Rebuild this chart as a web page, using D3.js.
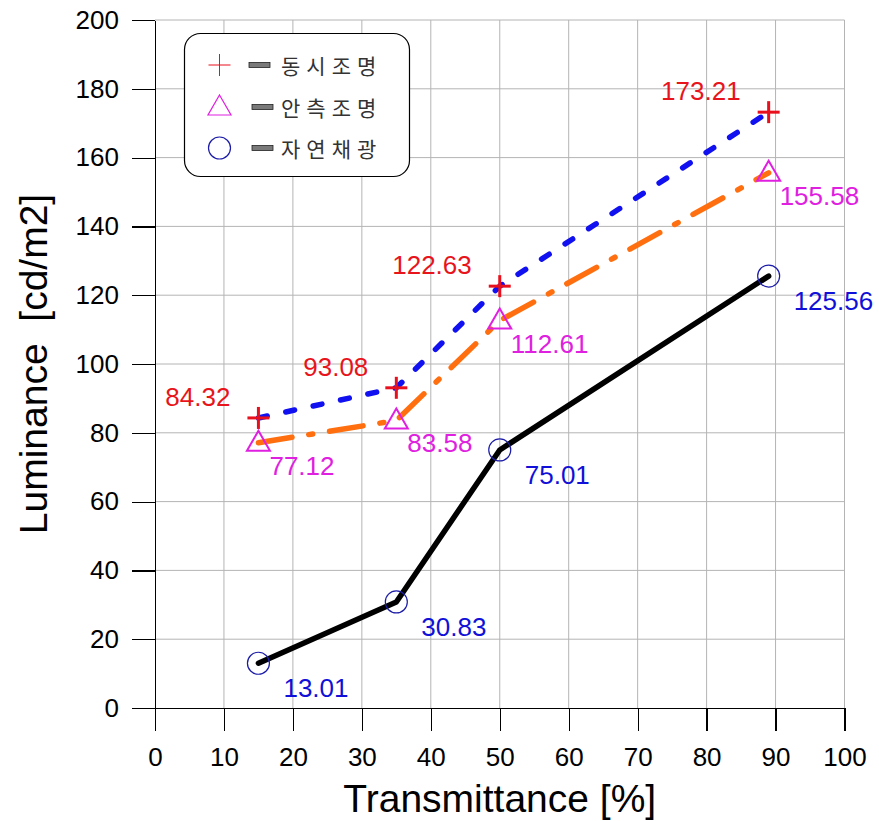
<!DOCTYPE html>
<html><head><meta charset="utf-8">
<script src="https://cdn.jsdelivr.net/npm/d3@7"></script>
<style>body{margin:0;background:#fff}</style>
</head><body><svg id="c" width="879" height="821"></svg>
<script>
// ---- data ----
const transmittance = [15, 35, 50, 89];
const simultaneous = [84.32, 93.08, 122.63, 173.21];   // 동시조명
const lateral = [77.12, 83.58, 112.61, 155.58];        // 안측조명
const daylight = [13.01, 30.83, 75.01, 125.56];        // 자연채광
const seriesNames = ["동시조명", "안측조명", "자연채광"];
const xTicks = [0, 10, 20, 30, 40, 50, 60, 70, 80, 90, 100];
const yTicks = [0, 20, 40, 60, 80, 100, 120, 140, 160, 180, 200];
const xTitle = "Transmittance [%]";
const yTitle = "Luminance  [cd/m2]";

// ---- layout / style ----
const FONT = "'Liberation Sans', Arial, sans-serif";
const KFONT = "'Noto Sans CJK KR', sans-serif";
const svg = d3.select("#c");
const x = d3.scaleLinear().domain([0, 100]).range([155, 844.5]);
const y = d3.scaleLinear().domain([0, 200]).range([708, 20]);

const series = [
  { name: seriesNames[0], values: simultaneous, line: "#1010f0", dash: "9,19", marker: "plus", mColor: "#e8101c", lColor: "#e8141c", anchor: "end", dx: -28, dy: -12 },
  { name: seriesNames[1], values: lateral, line: "#ff6f10", dash: "34,17,4,17", marker: "tri", mColor: "#e020e0", lColor: "#e020e0", anchor: "start", dx: 11, dy: 32 },
  { name: seriesNames[2], values: daylight, line: "#000000", dash: null, marker: "circle", mColor: "#1c1ca8", lColor: "#1010d8", anchor: "start", dx: 25, dy: 34 }
];

// grid
const grid = svg.append("g");
grid.selectAll("line.v").data(xTicks.filter(d => d > 0)).join("line")
  .attr("x1", d => x(d)).attr("x2", d => x(d)).attr("y1", y(0)).attr("y2", y(200))
  .attr("stroke", "#b4b4b4").attr("stroke-width", 1);
grid.selectAll("line.h").data(yTicks.filter(d => d > 0)).join("line")
  .attr("x1", x(0)).attr("x2", x(100)).attr("y1", d => y(d)).attr("y2", d => y(d))
  .attr("stroke", "#b4b4b4").attr("stroke-width", 1);

// axes
const xAxis = svg.append("g").attr("transform", `translate(0,${y(0)})`)
  .call(d3.axisBottom(x).tickValues(xTicks).tickSize(23).tickSizeOuter(0).tickPadding(17));
const yAxis = svg.append("g").attr("transform", `translate(${x(0)},0)`)
  .call(d3.axisLeft(y).tickValues(yTicks).tickSize(23).tickSizeOuter(0).tickPadding(13));
[xAxis, yAxis].forEach(a => {
  a.selectAll("path,line").attr("stroke", "#000").attr("stroke-width", 1.2).attr("shape-rendering", "crispEdges");
  a.selectAll("text").attr("font-family", FONT).attr("font-size", 26).attr("fill", "#000");
});

// titles
svg.append("text").attr("x", (x(0) + x(100)) / 2).attr("y", 812).attr("text-anchor", "middle")
  .attr("font-family", FONT).attr("font-size", 39).text(xTitle);
svg.append("text").attr("transform", `translate(47,${(y(0) + y(200)) / 2}) rotate(-90)`).attr("text-anchor", "middle")
  .attr("font-family", FONT).attr("font-size", 39).attr("xml:space", "preserve").style("white-space", "pre").text(yTitle);

// lines
const lineGen = d3.line().x((d, i) => x(transmittance[i])).y(d => y(d));
series.slice().reverse().forEach(s => {
  const p = svg.append("path").attr("d", lineGen(s.values)).attr("fill", "none")
    .attr("stroke", s.line).attr("stroke-width", 5.5).attr("stroke-linecap", "round").attr("stroke-linejoin", "round");
  if (s.dash) p.attr("stroke-dasharray", s.dash);
});

// markers
function drawMarker(g, type, cx, cy, color, big) {
  if (type === "plus") {
    const r = 11, w = big ? 3 : 1;
    g.append("line").attr("x1", cx - r).attr("x2", cx + r).attr("y1", cy).attr("y2", cy).attr("stroke", color).attr("stroke-width", w);
    g.append("line").attr("x1", cx).attr("x2", cx).attr("y1", cy - r).attr("y2", cy + r).attr("stroke", color).attr("stroke-width", w);
  } else if (type === "tri") {
    const h = 20, hw = 11.5;
    g.append("path").attr("d", `M${cx},${cy - h * 0.6}L${cx + hw},${cy + h * 0.4}L${cx - hw},${cy + h * 0.4}Z`)
      .attr("fill", "none").attr("stroke", color).attr("stroke-width", big ? 2 : 1.2);
  } else {
    g.append("circle").attr("cx", cx).attr("cy", cy).attr("r", 11).attr("fill", "none").attr("stroke", color).attr("stroke-width", 1.2);
  }
}
series.forEach(s => {
  const g = svg.append("g");
  s.values.forEach((v, i) => drawMarker(g, s.marker, x(transmittance[i]), y(v), s.mColor, true));
  svg.append("g").selectAll("text").data(s.values).join("text")
    .attr("x", (d, i) => x(transmittance[i]) + s.dx).attr("y", d => y(d) + s.dy)
    .attr("text-anchor", s.anchor).attr("font-family", FONT).attr("font-size", 26).attr("fill", s.lColor)
    .text(d => d.toFixed(2));
});

// legend
const lg = svg.append("g");
lg.append("rect").attr("x", 184.5).attr("y", 33.5).attr("width", 225).attr("height", 143).attr("rx", 16)
  .attr("fill", "#fff").attr("stroke", "#000").attr("stroke-width", 1.2);
const rowY = [65, 107, 148];
series.forEach((s, i) => {
  drawMarker(lg, s.marker, 219.5, rowY[i], s.mColor, false);
  lg.append("rect").attr("x", i === 0 ? 249 : 252).attr("y", rowY[i] - 2.5).attr("width", 21).attr("height", 5)
    .attr("fill", "#7a7a7a").attr("stroke", "#222").attr("stroke-width", 0.8);
  lg.append("text").attr("x", 281).attr("y", rowY[i] + 9).attr("font-family", KFONT).attr("font-size", 21)
    .attr("letter-spacing", 6).attr("fill", "#333").text(s.name);
});
</script></body></html>
